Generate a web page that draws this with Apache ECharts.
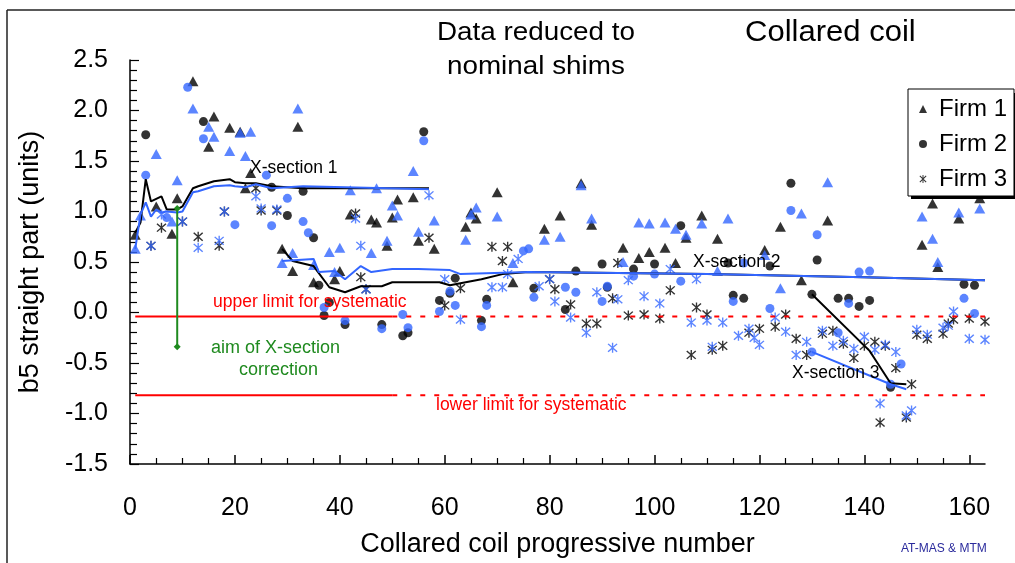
<!DOCTYPE html>
<html>
<head>
<meta charset="utf-8">
<script src="https://cdn.jsdelivr.net/npm/echarts@6/dist/echarts.min.js"></script>
<style>
  html, body { margin: 0; padding: 0; background: #fff; }
  #chart { width: 1015px; height: 563px; }
</style>
</head>
<body>
<div id="chart"></div>
<script>
// [coil number, b5 (units)]
const firm1Black = [[1,0.77],[5,1.05],[8,0.78],[9,1.13],[12,2.29],[15,1.64],[16,1.94],[19,1.83],[21,1.79],[22,1.23],[23,1.38],[29,0.63],[31,0.41],[32,1.84],[35,0.30],[39,0.33],[40,0.41],[42,0.97],[46,0.92],[47,0.89],[49,0.66],[50,0.94],[51,1.12],[54,1.14],[55,0.71],[58,0.63],[64,0.85],[65,0.99],[66,0.93],[70,1.19],[73,0.30],[79,0.83],[82,0.96],[86,1.28],[88,0.87],[94,0.64],[97,0.54],[99,0.60],[102,0.64],[104,0.49],[106,0.74],[109,0.96],[112,0.73],[121,0.62],[124,0.85],[128,0.32],[133,0.91],[151,0.67],[153,1.08],[154,0.45],[158,0.93],[162,1.13]];
const firm1Blue = [[1,0.63],[2,0.96],[5,1.57],[8,0.90],[9,1.31],[12,2.02],[15,1.84],[16,1.74],[19,1.60],[21,1.78],[22,1.55],[23,1.79],[29,0.49],[31,0.59],[32,2.02],[35,0.47],[38,0.60],[39,0.40],[40,0.64],[42,1.21],[46,0.59],[47,1.23],[49,0.71],[50,1.06],[51,0.96],[54,1.40],[55,0.80],[58,0.91],[64,0.72],[65,0.97],[66,1.04],[70,0.95],[73,0.49],[79,0.72],[82,0.75],[86,1.26],[88,0.93],[94,0.50],[97,0.89],[99,0.88],[102,0.89],[104,0.83],[106,0.77],[109,0.88],[112,0.41],[114,0.93],[121,0.57],[124,0.24],[128,0.98],[133,1.29],[151,0.95],[153,0.73],[154,0.50],[158,0.99],[162,1.03]];
const firm2Black = [[3,1.76],[14,1.89],[27,1.24],[30,0.96],[33,1.20],[35,0.74],[36,0.27],[37,-0.03],[38,0.10],[41,-0.12],[48,-0.12],[52,-0.23],[53,-0.20],[56,1.79],[59,0.12],[61,0.19],[62,0.34],[67,-0.08],[68,0.13],[77,0.24],[83,0.03],[85,0.41],[90,0.48],[91,0.25],[96,0.43],[100,0.48],[105,0.86],[114,0.49],[115,0.17],[117,0.14],[122,0.46],[126,1.28],[130,0.18],[131,0.52],[135,0.14],[137,0.14],[139,0.06],[141,0.12],[145,-0.74],[159,0.28],[161,0.27]];
const firm2Blue = [[3,1.36],[7,0.94],[11,2.23],[14,1.72],[20,0.87],[26,1.36],[27,0.86],[30,1.13],[33,0.90],[34,0.79],[37,0.05],[41,-0.08],[48,-0.16],[52,-0.02],[53,-0.15],[56,1.70],[59,0.01],[61,0.21],[62,0.07],[67,-0.14],[68,0.07],[75,0.61],[76,0.63],[77,0.15],[83,0.25],[85,0.20],[90,0.11],[91,0.26],[96,0.36],[100,0.38],[105,0.31],[115,0.11],[117,0.49],[122,0.04],[126,1.01],[130,-0.39],[131,0.77],[135,-0.20],[137,0.09],[139,0.40],[141,0.41],[145,-0.71],[147,-0.51],[159,0.14],[161,-0.01]];
const firm3Black = [[4,0.66],[6,0.84],[10,0.90],[13,0.75],[17,0.66],[18,1.00],[24,1.23],[25,1.01],[28,1.01],[43,0.98],[44,0.35],[45,0.23],[57,0.74],[60,0.07],[63,0.24],[69,0.65],[71,0.51],[72,0.65],[80,0.33],[81,0.23],[84,0.08],[87,-0.11],[89,-0.11],[92,0.14],[93,0.49],[95,-0.03],[98,-0.02],[101,-0.06],[103,0.22],[107,-0.42],[108,0.05],[110,-0.02],[111,-0.37],[113,-0.33],[118,-0.20],[120,-0.16],[123,-0.14],[125,-0.02],[127,-0.26],[129,-0.42],[132,-0.21],[134,-0.18],[136,-0.31],[138,-0.45],[140,-0.33],[142,-0.29],[143,-1.09],[144,-0.33],[146,-0.55],[148,-1.04],[149,-0.71],[150,-0.22],[152,-0.26],[155,-0.21],[156,-0.11],[157,-0.07],[160,-0.06],[163,-0.09]];
const firm3Blue = [[4,0.66],[6,0.97],[10,0.90],[13,0.64],[17,0.71],[18,1.00],[24,1.15],[25,1.03],[28,1.02],[43,0.93],[44,0.66],[45,0.23],[57,1.16],[60,0.33],[63,-0.07],[69,0.25],[71,0.25],[72,0.38],[74,0.53],[78,0.26],[80,0.33],[81,0.11],[84,-0.05],[87,-0.20],[89,0.20],[92,-0.35],[93,0.13],[95,0.32],[98,0.16],[101,0.09],[103,0.43],[107,-0.10],[108,0.33],[110,-0.08],[111,-0.34],[113,-0.10],[116,-0.23],[118,-0.16],[119,-0.25],[120,-0.32],[123,-0.05],[125,-0.19],[127,-0.42],[129,-0.29],[132,-0.18],[134,-0.33],[136,-0.28],[138,-0.36],[140,-0.24],[142,-0.37],[143,-0.90],[144,-0.32],[146,-0.39],[148,-1.02],[149,-0.97],[150,-0.17],[152,-0.22],[155,-0.15],[156,-0.13],[157,0.01],[160,-0.26],[163,-0.27]];

// X-section fits
const xs1Black = [[1,0.79],[2,0.89],[3,1.32],[4,1.10],[6,1.15],[7,1.02],[9,1.02],[10,1.05],[12,1.23],[13,1.25],[16,1.30],[19,1.32],[20,1.29],[22,1.28],[24,1.28],[27,1.25],[33,1.23],[57,1.23]];
const xs1Blue = [[1,0.63],[2,0.97],[3,1.09],[4,0.95],[5,1.02],[6,0.99],[7,1.00],[9,0.99],[10,1.00],[12,1.19],[13,1.20],[16,1.25],[19,1.26],[20,1.25],[22,1.24],[24,1.27],[27,1.23],[33,1.25],[57,1.22]];
const xs2Black = [[29,0.63],[31,0.51],[35,0.46],[38,0.25],[41,0.20],[44,0.26],[48,0.26],[50,0.30],[55,0.30],[59,0.30],[61,0.27],[67,0.33],[71,0.38],[76,0.40],[110,0.38],[140,0.35],[163,0.32]];
const xs2Blue = [[29,0.51],[35,0.53],[36,0.40],[39,0.41],[41,0.33],[44,0.46],[46,0.40],[50,0.43],[55,0.43],[61,0.42],[63,0.38],[76,0.40],[110,0.38],[140,0.35],[163,0.32]];
const xs3Black = [[130,0.18],[141,-0.38],[142,-0.46],[145,-0.70],[148,-0.71]];
const xs3Blue = [[130,-0.39],[145,-0.71],[148,-0.76]];

// limits and aim
const upperLimit = -0.04;
const lowerLimit = -0.82;
const limitSolidTo = 50;
const aimCoil = 9;
const aimRange = [1.03, -0.34];

const xMax = 163;
const xMajor = [0, 20, 40, 60, 80, 100, 120, 140, 160];
const xMinor = [5,10,15,25,30,35,45,50,55,65,70,75,85,90,95,105,110,115,125,130,135,145,150,155];

const FONT = "'Liberation Sans', Arial, sans-serif";
const BLUE = '#3366ff';
const RED = '#ff0000';
const GREEN = '#1f8a1f';
const ASTER = 'path://M4.4 0L5.6 0L5.6 10L4.4 10Z M0.6 1.5L1.5 0.6L9.4 8.5L8.5 9.4Z M8.5 0.6L9.4 1.5L1.5 9.4L0.6 8.5Z';

const myChart = echarts.init(document.getElementById('chart'));

function scatter(name, data, symbol, size, color) {
  return { name: name, type: 'scatter', data: data, symbol: symbol, symbolSize: size,
    itemStyle: { color: color }, z: 3, animation: false };
}
function line(data, color, width, type) {
  return { type: 'line', data: data, symbol: 'none', silent: true, z: 4, animation: false,
    lineStyle: { color: color, width: width, type: type || 'solid' } };
}

// text placed by its left edge / vertical middle, optionally stretched a little in x
function txt(text, x, y, size, color, sx) {
  return { type: 'text', x: x, y: y, z: 10, scaleX: sx || 1,
    style: { text: text, font: size + 'px ' + FONT, fill: color || '#000', textAlign: 'left', textVerticalAlign: 'middle' } };
}

const option = {
  backgroundColor: '#fff',
  animation: false,
  grid: { left: 130, right: 30, top: 60, bottom: 98 },
  legend: {
    data: ['Firm 1', 'Firm 2', 'Firm 3'],
    orient: 'vertical',
    left: 908, top: 89,
    padding: [8, 7, 5, 11],
    itemGap: 11,
    itemWidth: 8, itemHeight: 8,
    backgroundColor: '#fff',
    borderColor: '#000', borderWidth: 1,
    z: 6,
    textStyle: { fontSize: 24, color: '#000', fontFamily: FONT, padding: [0, 0, 0, 7] }
  },
  xAxis: [{
    type: 'value', min: 0, max: xMax,
    name: 'Collared coil progressive number',
    nameLocation: 'middle', nameGap: 67,
    nameTextStyle: { fontSize: 27, color: '#000', fontFamily: FONT },
    axisLine: { onZero: false, lineStyle: { color: '#000', width: 1.5 } },
    axisTick: { inside: true, length: 9, customValues: xMajor, lineStyle: { color: '#000', width: 1.5 } },
    axisLabel: { customValues: xMajor, margin: 32, fontSize: 25, color: '#000', fontFamily: FONT },
    splitLine: { show: false }
  }, {
    type: 'value', min: 0, max: xMax, position: 'bottom',
    axisLine: { show: false, onZero: false },
    axisTick: { inside: true, length: 6, customValues: xMinor, lineStyle: { color: '#000', width: 1.2 } },
    axisLabel: { show: false },
    splitLine: { show: false }
  }],
  yAxis: {
    type: 'value', min: -1.5, max: 2.5, interval: 0.5,
    name: 'b5 straight part (units)',
    nameLocation: 'middle', nameGap: 86, nameRotate: 90,
    nameTextStyle: { fontSize: 27, color: '#000', fontFamily: FONT },
    axisLine: { show: true, onZero: false, lineStyle: { color: '#000', width: 1.5 } },
    axisTick: { show: true, inside: true, length: 9, lineStyle: { color: '#000', width: 1.2 } },
    minorTick: { show: true, splitNumber: 5, length: 7, lineStyle: { color: '#000', width: 1.2 } },
    axisLabel: { margin: 22, fontSize: 25, color: '#000', fontFamily: FONT,
      formatter: function (v) { return v.toFixed(1); } },
    splitLine: { show: false }
  },
  series: [
    scatter('Firm 1', firm1Black, 'triangle', [11, 10], '#000'),
    scatter('Firm 2', firm2Black, 'circle', 9, '#000'),
    scatter('Firm 3', firm3Black, ASTER, 10, '#000'),
    scatter('Firm 1 blue', firm1Blue, 'triangle', [11, 10], BLUE),
    scatter('Firm 2 blue', firm2Blue, 'circle', 9, BLUE),
    scatter('Firm 3 blue', firm3Blue, ASTER, 10, BLUE),
    line(xs1Black, '#000', 2),
    line(xs1Blue, BLUE, 2),
    line(xs2Black, '#000', 2),
    line(xs2Blue, BLUE, 2),
    line(xs3Black, '#000', 2),
    line(xs3Blue, BLUE, 2),
    line([[1, upperLimit], [limitSolidTo, upperLimit]], RED, 2),
    line([[limitSolidTo, upperLimit], [xMax, upperLimit]], RED, 2, [5, 9]),
    line([[1, lowerLimit], [limitSolidTo, lowerLimit]], RED, 2),
    line([[limitSolidTo, lowerLimit], [xMax, lowerLimit]], RED, 2, [5, 9]),
    {
      type: 'line', data: [[aimCoil, aimRange[0]], [aimCoil, aimRange[1]]],
      symbol: 'diamond', symbolSize: 7, showSymbol: true, silent: true, z: 5, animation: false,
      lineStyle: { color: GREEN, width: 2 }, itemStyle: { color: GREEN }
    }
  ],
  graphic: [
    { type: 'line', z: 1, shape: { x1: 7, y1: 10, x2: 1015, y2: 10 }, style: { stroke: '#222', lineWidth: 1.5 } },
    { type: 'line', z: 1, shape: { x1: 7, y1: 10, x2: 7, y2: 563 }, style: { stroke: '#222', lineWidth: 1.5 } },
    // legend drop shadow
    { type: 'rect', z: 1, shape: { x: 911, y: 93, width: 110, height: 106 }, style: { fill: '#000' } },
    txt('Data reduced to', 437, 33, 26, '#000', 1.07),
    txt('nominal shims', 447, 67, 26, '#000', 1.07),
    txt('Collared coil', 745, 33, 29, '#000', 1.07),
    txt('X-section 1', 250, 168, 17.5),
    txt('X-section 2', 693, 262, 17.5),
    txt('X-section 3', 792, 373, 17.5),
    txt('upper limit for systematic', 213, 302, 17.5, RED),
    txt('aim of X-section', 211, 348, 18, GREEN),
    txt('correction', 239, 370, 18, GREEN),
    txt('lower limit for systematic', 436, 405, 17.5, RED),
    txt('AT-MAS & MTM', 901, 549, 12, '#2a2a9c')
  ]
};

myChart.setOption(option);
window.addEventListener('resize', function () { myChart.resize(); });
</script>
</body>
</html>
